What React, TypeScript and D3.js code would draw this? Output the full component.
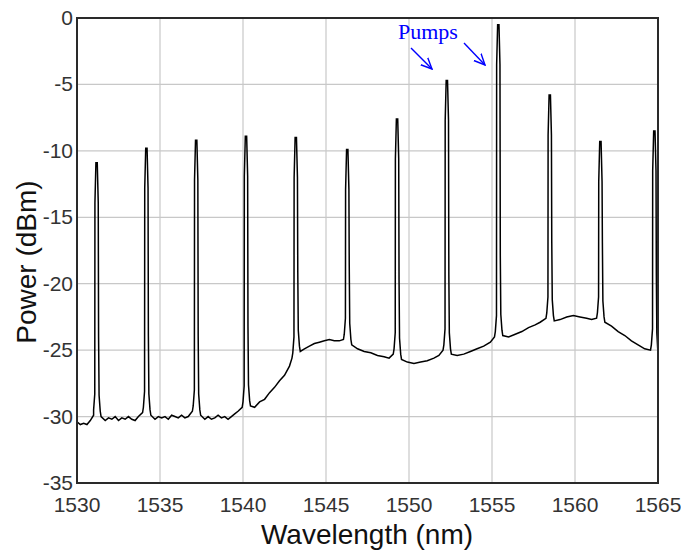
import React from "react";
import * as d3 from "d3";

// Background (ASE floor) readings: wavelength (nm) and power (dBm)
const bgWavelength = [
  1530.0, 1530.2, 1530.4, 1530.6, 1530.8, 1531.0, 1531.45, 1531.7, 1531.9, 1532.1, 1532.3, 1532.5, 1532.7,
  1532.9, 1533.1, 1533.3, 1533.5, 1533.7, 1533.95, 1534.45, 1534.7, 1534.9, 1535.1, 1535.3, 1535.5,
  1535.7, 1535.9, 1536.1, 1536.3, 1536.5, 1536.7, 1536.95, 1537.45, 1537.7, 1537.9, 1538.1, 1538.3,
  1538.5, 1538.7, 1538.9, 1539.1, 1539.3, 1539.5, 1539.7, 1539.95, 1540.45, 1540.7, 1541.0, 1541.3,
  1541.6, 1541.9, 1542.2, 1542.5, 1542.8, 1542.95, 1543.45, 1543.7, 1544.0, 1544.3, 1544.6, 1544.9,
  1545.2, 1545.5, 1545.8, 1546.05, 1546.55, 1546.9, 1547.3, 1547.7, 1548.1, 1548.5, 1548.8, 1549.05,
  1549.55, 1549.9, 1550.3, 1550.7, 1551.1, 1551.5, 1551.8, 1552.05, 1552.55, 1552.9, 1553.3, 1553.7,
  1554.1, 1554.5, 1554.9, 1555.15, 1555.65, 1556.0, 1556.4, 1556.8, 1557.2, 1557.6, 1557.9, 1558.25,
  1558.75, 1559.1, 1559.5, 1559.9, 1560.3, 1560.7, 1561.0, 1561.3, 1561.8, 1562.2, 1562.6, 1563.0,
  1563.4, 1563.8, 1564.2, 1564.55, 1565.0,
];
const bgPower = [
  -30.4, -30.6, -30.5, -30.6, -30.3, -29.9, -30.0, -30.3, -30.1, -30.2, -30.0, -30.3, -30.1,
  -30.2, -30.0, -30.2, -30.3, -30.0, -29.7, -29.9, -30.2, -30.0, -30.1, -30.0, -30.2,
  -29.9, -30.0, -30.1, -29.9, -30.1, -30.0, -29.6, -29.9, -30.2, -30.0, -30.2, -30.1,
  -29.9, -30.1, -30.0, -30.2, -30.0, -29.8, -29.6, -29.3, -29.2, -29.3, -28.9, -28.7,
  -28.2, -27.8, -27.3, -26.9, -26.2, -25.6, -25.1, -24.9, -24.7, -24.5, -24.4, -24.3,
  -24.2, -24.3, -24.3, -24.2, -24.6, -24.9, -25.1, -25.2, -25.4, -25.5, -25.6, -25.3,
  -25.7, -25.9, -26.0, -25.9, -25.8, -25.6, -25.4, -25.0, -25.3, -25.4, -25.3, -25.1,
  -24.9, -24.7, -24.4, -24.0, -23.9, -24.0, -23.8, -23.6, -23.3, -23.1, -22.9, -22.6,
  -22.8, -22.7, -22.5, -22.4, -22.5, -22.6, -22.7, -22.6, -22.9, -23.2, -23.6, -23.9,
  -24.3, -24.6, -24.9, -25.0, -25.3,
];

// Channel / pump peaks
const peakWavelength = [1531.2, 1534.2, 1537.2, 1540.2, 1543.2, 1546.3, 1549.3, 1552.3, 1555.4, 1558.5, 1561.55, 1564.8];
const peakPower = [-10.9, -9.8, -9.2, -8.9, -9.0, -9.9, -7.6, -4.7, -0.5, -5.8, -9.3, -8.5];

// Axis ticks
const xTicks = [1530, 1535, 1540, 1545, 1550, 1555, 1560, 1565];
const yTicks = [0, -5, -10, -15, -20, -25, -30, -35];

const W = 681;
const H = 552;
const margin = { left: 77, right: 681 - 658, top: 18, bottom: 552 - 483 };

export default function App() {
  const x = d3.scaleLinear().domain([1530, 1565]).range([margin.left, W - margin.right]);
  const y = d3.scaleLinear().domain([-35, 0]).range([H - margin.bottom, margin.top]);

  const bg: [number, number][] = bgWavelength.map((w, i) => [w, bgPower[i]]);
  const pts: [number, number][] = bg.slice();
  peakWavelength.forEach((c, i) => {
    const before = bg.filter((p) => p[0] < c).slice(-1)[0];
    const after = bg.find((p) => p[0] > c);
    const bl = before ? before[1] : -30;
    const br = after ? after[1] : bl;
    const top = peakPower[i];
    pts.push([c - 0.2, bl + 0.4]);
    pts.push([c - 0.13, bl + 1.6]);
    pts.push([c - 0.12, top - 3]);
    pts.push([c - 0.06, top]);
    pts.push([c + 0.02, top]);
    pts.push([c + 0.08, top - 3]);
    pts.push([c + 0.1, br + 6]);
    pts.push([c + 0.13, br + 1.6]);
    pts.push([c + 0.2, br + 0.4]);
  });
  pts.sort((a, b) => a[0] - b[0]);
  const clipped = pts.filter((p) => p[0] >= 1530 && p[0] <= 1565);

  const line = d3
    .line<[number, number]>()
    .x((d) => x(d[0]))
    .y((d) => y(d[1]));

  const font = "Liberation Sans, Arial, sans-serif";

  return (
    <svg width={W} height={H} style={{ position: "absolute", left: 0, top: 0, background: "#fff" }}>
      <defs>
        <clipPath id="plot">
          <rect x={margin.left} y={margin.top} width={W - margin.left - margin.right} height={H - margin.top - margin.bottom} />
        </clipPath>
        <marker id="arr" viewBox="0 0 12 12" refX="11" refY="6" markerWidth="12" markerHeight="12" markerUnits="userSpaceOnUse" orient="auto">
          <path d="M0,1 L11,6 L0,11" fill="none" stroke="#0000ff" strokeWidth="1.4" />
        </marker>
      </defs>
      {xTicks.map((t) => (
        <line key={"gx" + t} x1={x(t)} x2={x(t)} y1={margin.top} y2={H - margin.bottom} stroke="#c8c8c8" strokeWidth={1.2} />
      ))}
      {yTicks.map((t) => (
        <line key={"gy" + t} x1={margin.left} x2={W - margin.right} y1={y(t)} y2={y(t)} stroke="#c8c8c8" strokeWidth={1.2} />
      ))}
      <path d={line(clipped) || ""} fill="none" stroke="#000" strokeWidth={1.5} clipPath="url(#plot)" />
      <rect
        x={margin.left}
        y={margin.top}
        width={W - margin.left - margin.right}
        height={H - margin.top - margin.bottom}
        fill="none"
        stroke="#2a2a2a"
        strokeWidth={2}
      />
      {xTicks.map((t) => (
        <text key={"tx" + t} x={x(t)} y={H - margin.bottom + 29} textAnchor="middle" fontFamily={font} fontSize={21} fill="#333">
          {t}
        </text>
      ))}
      {yTicks.map((t) => (
        <text key={"ty" + t} x={margin.left - 4} y={y(t) + 7} textAnchor="end" fontFamily={font} fontSize={21} fill="#333">
          {t}
        </text>
      ))}
      <text x={367} y={544} textAnchor="middle" fontFamily={font} fontSize={28} fill="#111">
        Wavelength (nm)
      </text>
      <text
        transform={`translate(36, 262) rotate(-90)`}
        textAnchor="middle"
        fontFamily={font}
        fontSize={28}
        fill="#111"
      >
        Power (dBm)
      </text>
      <text x={398} y={39} fontFamily="Liberation Serif, Times New Roman, serif" fontSize={22} fill="#0000ff">
        Pumps
      </text>
      <line x1={411} y1={48} x2={432} y2={69} stroke="#0000ff" strokeWidth={1.4} markerEnd="url(#arr)" />
      <line x1={464} y1={43} x2={485} y2={65} stroke="#0000ff" strokeWidth={1.4} markerEnd="url(#arr)" />
    </svg>
  );
}
